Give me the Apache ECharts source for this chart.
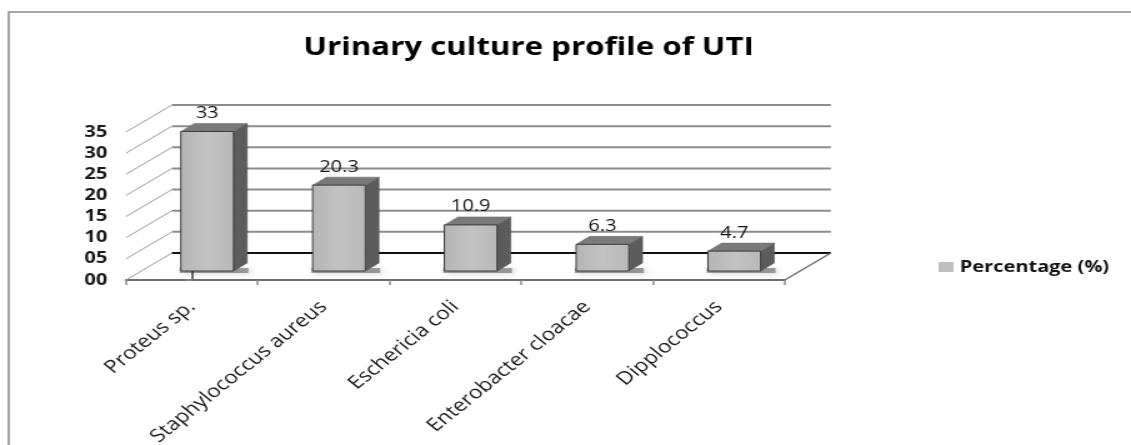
<!DOCTYPE html>
<html>
<head>
<meta charset="utf-8">
<script src="https://cdn.jsdelivr.net/npm/echarts@6/dist/echarts.min.js"></script>
<style>
  html, body { margin: 0; padding: 0; background: #fff; overflow: hidden; }
  /* the reference is a horizontally stretched picture, so the chart is drawn narrower and stretched */
  #chart { width: 905px; height: 445px; transform: scaleX(1.2497); transform-origin: 0 0; }
</style>
</head>
<body>
<div id="chart"></div>
<script>
// data
const categories = ['Proteus sp.', 'Staphylococcus aureus', 'Eschericia coli', 'Enterobacter cloacae', 'Dipplococcus']
const percentValues = [33, 20.3, 10.9, 6.3, 4.7]
const yTicks = [0, 5, 10, 15, 20, 25, 30, 35]

// 3D look: offset from the front plane to the back wall, in pixels
const DEPTH = [36.8, -27]
const BAR_FRONT = 0.333 // depth where the bar front face sits
const BAR_BACK = 0.63 // depth where the bar back face sits
const BAR_HALF = 0.2 // half bar width in category units

const chart = echarts.init(document.getElementById('chart'))

const barData = percentValues.map((v, i) => [i, v])
const wallData = yTicks.map(v => [0, v])

const option = {
  backgroundColor: '#fff',
  animation: false,
  textStyle: { fontFamily: 'Open Sans' },
  graphic: [
    {
      type: 'rect',
      shape: { x: 7, y: 12, width: 1200, height: 600 },
      style: { fill: 'none', stroke: '#a6a6a6', lineWidth: 2 },
      silent: true
    }
  ],
  title: {
    text: 'Urinary culture profile of UTI',
    left: 418,
    top: 30,
    textAlign: 'center',
    textStyle: { fontFamily: 'Open Sans', fontWeight: 'bold', fontSize: 25, color: '#000' }
  },
  legend: {
    data: ['Percentage (%)'],
    left: 746,
    top: 254,
    icon: 'rect',
    itemWidth: 12,
    itemHeight: 10,
    itemGap: 4,
    textStyle: { fontFamily: 'Open Sans', fontWeight: 'bold', fontSize: 16, color: '#111' }
  },
  grid: {
    left: 100.8,
    right: 277,
    top: 132,
    bottom: 165,
    outerBoundsMode: 'none'
  },
  xAxis: [
    {
      type: 'category',
      data: categories,
      axisLine: { lineStyle: { color: '#6e6e6e', width: 2 } },
      axisTick: { show: true, length: 5, lineStyle: { color: '#8a8a8a', width: 1.5 } },
      axisLabel: {
        rotate: 45,
        margin: 24,
        fontFamily: 'Open Sans',
        fontSize: 18,
        color: '#1a1a1a'
      }
    },
    {
      // hidden value axis used by the custom series for 3D drawing
      type: 'value',
      min: -0.5,
      max: 4.5,
      show: false
    }
  ],
  yAxis: {
    type: 'value',
    min: 0,
    max: 35,
    interval: 5,
    axisLine: { show: true, lineStyle: { color: '#6e6e6e', width: 2 } },
    axisTick: { show: true, length: 5, lineStyle: { color: '#8a8a8a', width: 1.5 } },
    splitLine: { show: false },
    axisLabel: {
      margin: 15,
      fontFamily: 'Open Sans',
      fontWeight: 'bold',
      fontSize: 16,
      color: '#1a1a1a',
      formatter: v => (v < 10 ? '0' + v : '' + v)
    }
  },
  series: [
    {
      // back wall gridlines, side wall diagonals and the floor
      type: 'custom',
      name: 'walls',
      xAxisIndex: 1,
      yAxisIndex: 0,
      clip: false,
      silent: true,
      z: 1,
      data: wallData,
      renderItem (params, api) {
        const v = api.value(1)
        const l = api.coord([-0.5, v])
        const r = api.coord([4.5, v])
        const children = [
          {
            type: 'line',
            shape: { x1: l[0], y1: l[1], x2: l[0] + DEPTH[0], y2: l[1] + DEPTH[1] },
            style: { stroke: '#9a9a9a', lineWidth: 1 }
          },
          {
            type: 'line',
            shape: { x1: l[0] + DEPTH[0], y1: l[1] + DEPTH[1], x2: r[0] + DEPTH[0], y2: r[1] + DEPTH[1] },
            style: v === 0 ? { stroke: '#111', lineWidth: 2 } : { stroke: '#8c8c8c', lineWidth: 2 }
          }
        ]
        if (v === 0) {
          children.push({
            type: 'line',
            shape: { x1: r[0], y1: r[1], x2: r[0] + DEPTH[0], y2: r[1] + DEPTH[1] },
            style: { stroke: '#6e6e6e', lineWidth: 1.5 }
          })
        }
        return { type: 'group', children }
      }
    },
    {
      type: 'custom',
      name: 'Percentage (%)',
      xAxisIndex: 1,
      yAxisIndex: 0,
      clip: false,
      z: 3,
      itemStyle: { color: '#bfbfbf' },
      data: barData,
      renderItem (params, api) {
        const i = api.value(0)
        const v = api.value(1)
        const half = api.size([1, 0])[0] * BAR_HALF
        const base = api.coord([i, 0])
        const top = api.coord([i, v])
        const fx = DEPTH[0] * BAR_FRONT
        const fy = DEPTH[1] * BAR_FRONT
        const bx = DEPTH[0] * (BAR_BACK - BAR_FRONT)
        const by = DEPTH[1] * (BAR_BACK - BAR_FRONT)
        const x0 = base[0] - half + fx
        const x1 = base[0] + half + fx
        const yb = base[1] + fy
        const yt = top[1] + fy
        return {
          type: 'group',
          children: [
            {
              // soft shadow on the floor
              type: 'rect',
              shape: { x: x0 - 1, y: yb - 3, width: x1 - x0 + bx + 2, height: 5 },
              style: { fill: 'rgba(0,0,0,0.35)', shadowBlur: 5, shadowColor: 'rgba(0,0,0,0.45)', shadowOffsetX: 2, shadowOffsetY: 1 }
            },
            {
              type: 'polygon',
              shape: { points: [[x1, yt], [x1 + bx, yt + by], [x1 + bx, yb + by], [x1, yb]] },
              style: { fill: '#5c5c5c', stroke: '#4a4a4a', lineWidth: 0.5 }
            },
            {
              type: 'polygon',
              shape: { points: [[x0, yt], [x1, yt], [x1 + bx, yt + by], [x0 + bx, yt + by]] },
              style: { fill: '#7a7a7a', stroke: '#666', lineWidth: 0.5 }
            },
            {
              type: 'rect',
              shape: { x: x0, y: yt, width: x1 - x0, height: yb - yt },
              style: {
                fill: new echarts.graphic.LinearGradient(0, 0, 1, 0, [
                  { offset: 0, color: '#b4b4b4' },
                  { offset: 0.5, color: '#c2c2c2' },
                  { offset: 1, color: '#b8b8b8' }
                ]),
                stroke: '#3c3c3c',
                lineWidth: 1
              }
            },
            {
              type: 'text',
              style: {
                text: '' + v,
                x: (x0 + x1) / 2,
                y: yt + by - 2,
                align: 'center',
                verticalAlign: 'bottom',
                fontFamily: 'Open Sans',
                fontSize: 16,
                fill: '#111'
              }
            }
          ]
        }
      }
    }
  ]
}

chart.setOption(option)
</script>
</body>
</html>
